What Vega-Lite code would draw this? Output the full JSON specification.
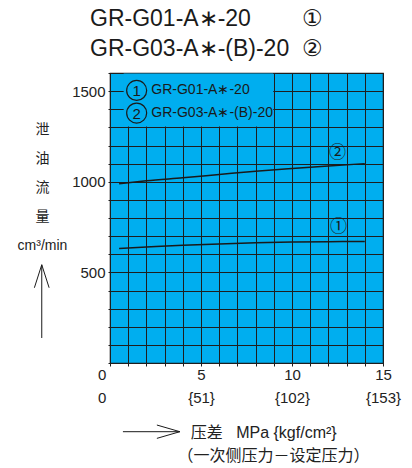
{
  "$schema": "https://vega.github.io/schema/vega-lite/v6.json",
  "width": 273,
  "height": 290,
  "autosize": {"type": "none"},
  "padding": {"left": 110, "top": 73, "right": 29, "bottom": 105},
  "background": "white",
  "config": {
    "view": {"fill": "#00AEEF", "stroke": "#1e1e1e", "strokeWidth": 1.2},
    "font": "Liberation Sans"
  },
  "title": {
    "text": ["GR-G01-A∗-20\u00a0\u00a0\u00a0\u00a0\u00a0\u00a0\u00a0\u00a0①", "GR-G03-A∗-(B)-20\u00a0\u00a0②"],
    "anchor": "start",
    "frame": "group",
    "dx": -20,
    "fontSize": 23,
    "fontWeight": "normal",
    "lineHeight": 30,
    "offset": 5,
    "color": "#1a1a1a",
    "font": "Liberation Sans"
  },
  "resolve": {"axis": {"x": "independent", "y": "independent"}},
  "datasets": {
    "curves": [
      {"series": "①", "p": 0.5, "q": 632},
      {"series": "①", "p": 2, "q": 640},
      {"series": "①", "p": 4, "q": 650},
      {"series": "①", "p": 6, "q": 657},
      {"series": "①", "p": 8, "q": 663},
      {"series": "①", "p": 10, "q": 667},
      {"series": "①", "p": 12, "q": 669.5},
      {"series": "①", "p": 14, "q": 671},
      {"series": "②", "p": 0.5, "q": 989},
      {"series": "②", "p": 2, "q": 1005},
      {"series": "②", "p": 4, "q": 1022},
      {"series": "②", "p": 6, "q": 1040},
      {"series": "②", "p": 8, "q": 1058},
      {"series": "②", "p": 10, "q": 1073},
      {"series": "②", "p": 12, "q": 1087},
      {"series": "②", "p": 14, "q": 1100}
    ],
    "one": [{}]
  },
  "layer": [
    {
      "data": {"name": "curves"},
      "mark": {"type": "line", "color": "#1a1a1a", "strokeWidth": 1.5, "interpolate": "monotone"},
      "encoding": {
        "x": {
          "field": "p",
          "type": "quantitative",
          "scale": {"domain": [0, 15], "nice": false, "zero": false},
          "axis": {
            "values": [0,1,2,3,4,5,6,7,8,9,10,11,12,13,14,15],
            "labelExpr": "datum.value == 0 ? ['0\u00a0\u00a0\u00a0\u00a0\u2060', '0\u00a0\u00a0\u00a0\u00a0\u2060'] : datum.value == 5 ? ['5', '{51}'] : datum.value == 10 ? ['10', '{102}'] : datum.value == 15 ? ['15', '{153}'] : ''",
            "labelFlush": false,
            "labelOverlap": false,
            "labelFont": "Liberation Sans",
            "labelFontSize": 15,
            "labelColor": "#222",
            "labelLineHeight": 23,
            "labelPadding": 1,
            "grid": true,
            "gridColor": "#1e1e1e",
            "gridWidth": 1,
            "gridOpacity": 1,
            "domain": false,
            "ticks": true,
            "tickSize": 3,
            "tickColor": "#1e1e1e",
            "title": ["\u2060\u00a0\u00a0\u00a0压差\u00a0\u00a0\u00a0MPa {kgf/cm²}", "（一次侧压力－设定压力）"],
            "titleFont": "Liberation Sans, Noto Sans CJK SC",
            "titleFontSize": 16,
            "titleFontWeight": "normal",
            "titleColor": "#222",
            "titleAlign": "left",
            "titleBaseline": "top",
            "titleLineHeight": 23,
            "titleX": 67,
            "titleY": 61
          }
        },
        "y": {
          "field": "q",
          "type": "quantitative",
          "scale": {"domain": [0, 1600], "nice": false, "zero": true},
          "axis": {
            "values": [0,100,200,300,400,500,600,700,800,900,1000,1100,1200,1300,1400,1500,1600],
            "format": "d",
            "labelExpr": "(datum.value == 500 || datum.value == 1000 || datum.value == 1500) ? datum.label : ''",
            "labelOverlap": false,
            "labelFont": "Liberation Sans",
            "labelFontSize": 15,
            "labelColor": "#222",
            "labelPadding": 3,
            "grid": true,
            "gridColor": "#1e1e1e",
            "gridWidth": 1,
            "gridOpacity": 1,
            "domain": false,
            "ticks": true,
            "tickSize": 2,
            "tickColor": "#1e1e1e",
            "title": ["泄", "油", "流", "量", "cm³/min"],
            "titleFont": "Liberation Sans, Noto Sans CJK SC",
            "titleFontSize": 14,
            "titleFontWeight": "normal",
            "titleColor": "#222",
            "titleAngle": 0,
            "titleAlign": "center",
            "titleBaseline": "top",
            "titleLineHeight": 29,
            "titleX": -68,
            "titleY": 49
          }
        },
        "detail": {"field": "series", "type": "nominal"}
      }
    },
    {
      "data": {"name": "one"},
      "mark": {"type": "rect", "fill": "#00AEEF"},
      "encoding": {
        "x": {"datum": 0.75, "axis": null},
        "x2": {"datum": 8.97},
        "y": {"datum": 1305, "axis": null},
        "y2": {"datum": 1597}
      }
    },
    {
      "data": {"name": "one"},
      "mark": {"type": "point", "shape": "circle", "size": 400, "filled": false, "stroke": "#1a1a1a", "strokeWidth": 1.2, "opacity": 1},
      "encoding": {"x": {"datum": 1.465, "axis": null}, "y": {"datum": 1504, "axis": null}}
    },
    {
      "data": {"name": "one"},
      "mark": {"type": "point", "shape": "circle", "size": 400, "filled": false, "stroke": "#1a1a1a", "strokeWidth": 1.2, "opacity": 1},
      "encoding": {"x": {"datum": 1.465, "axis": null}, "y": {"datum": 1379, "axis": null}}
    },
    {
      "data": {"name": "one"},
      "mark": {"type": "text", "text": "1", "font": "Liberation Sans", "fontSize": 15, "dy": 0.5, "color": "#1a1a1a"},
      "encoding": {"x": {"datum": 1.465, "axis": null}, "y": {"datum": 1504, "axis": null}}
    },
    {
      "data": {"name": "one"},
      "mark": {"type": "text", "text": "2", "font": "Liberation Sans", "fontSize": 15, "dy": 0.5, "color": "#1a1a1a"},
      "encoding": {"x": {"datum": 1.465, "axis": null}, "y": {"datum": 1379, "axis": null}}
    },
    {
      "data": {"name": "one"},
      "mark": {"type": "text", "text": "GR-G01-A∗-20", "align": "left", "font": "Liberation Sans", "fontSize": 14, "color": "#1a1a1a"},
      "encoding": {"x": {"datum": 2.27, "axis": null}, "y": {"datum": 1504, "axis": null}}
    },
    {
      "data": {"name": "one"},
      "mark": {"type": "text", "text": "GR-G03-A∗-(B)-20", "align": "left", "font": "Liberation Sans", "fontSize": 14, "color": "#1a1a1a"},
      "encoding": {"x": {"datum": 2.27, "axis": null}, "y": {"datum": 1379, "axis": null}}
    },
    {
      "data": {"name": "one"},
      "mark": {"type": "text", "text": "①", "font": "Noto Sans CJK SC", "fontSize": 17, "color": "#1a1a1a"},
      "encoding": {"x": {"datum": 12.55, "axis": null}, "y": {"datum": 749, "axis": null}}
    },
    {
      "data": {"name": "one"},
      "mark": {"type": "text", "text": "②", "font": "Noto Sans CJK SC", "fontSize": 17, "color": "#1a1a1a"},
      "encoding": {"x": {"datum": 12.5, "axis": null}, "y": {"datum": 1157, "axis": null}}
    },
    {
      "data": {"name": "one"},
      "mark": {"type": "rule", "color": "#1a1a1a", "strokeWidth": 1},
      "encoding": {"x": {"datum": 0.71, "axis": null}, "x2": {"datum": 3.84}, "y": {"datum": -379, "axis": null}}
    },
    {
      "data": {"name": "one"},
      "mark": {"type": "point", "shape": "M-1,-0.29L0,0L-1,0.29", "size": 2116, "filled": false, "stroke": "#1a1a1a", "strokeWidth": 1, "opacity": 1},
      "encoding": {"x": {"datum": 3.84, "axis": null}, "y": {"datum": -379, "axis": null}}
    },
    {
      "data": {"name": "one"},
      "mark": {"type": "rule", "color": "#1a1a1a", "strokeWidth": 1},
      "encoding": {"x": {"datum": -3.75, "axis": null}, "y": {"datum": 138, "axis": null}, "y2": {"datum": 542}}
    },
    {
      "data": {"name": "one"},
      "mark": {"type": "point", "shape": "M-0.32,1L0,0L0.32,1", "size": 2116, "filled": false, "stroke": "#1a1a1a", "strokeWidth": 1, "opacity": 1},
      "encoding": {"x": {"datum": -3.75, "axis": null}, "y": {"datum": 542, "axis": null}}
    }
  ]
}
